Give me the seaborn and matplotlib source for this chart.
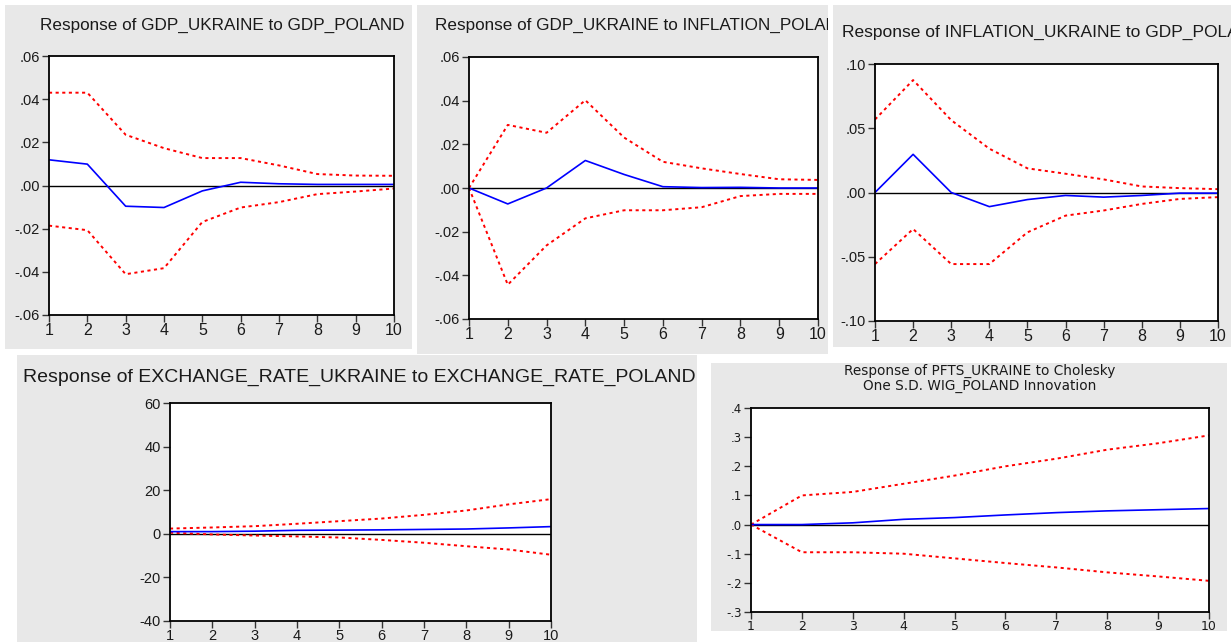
import matplotlib
matplotlib.use("Agg")
import matplotlib.pyplot as plt
import seaborn as sns
from matplotlib.patches import Rectangle
from matplotlib.transforms import Bbox, TransformedBbox

plt.rcParams["font.family"] = ["Liberation Sans", "DejaVu Sans"]

W, H = 1231, 642

periods = list(range(1, 11))

# Response of GDP_UKRAINE to GDP_POLAND
gdp_gdp_resp = [0.0119, 0.0099, -0.0096, -0.0102, -0.0025, 0.0015, 0.0008, 0.0005, 0.0005, 0.0005]
gdp_gdp_upper = [0.0430, 0.0430, 0.0235, 0.0173, 0.0127, 0.0127, 0.0093, 0.0053, 0.0046, 0.0045]
gdp_gdp_lower = [-0.0186, -0.0207, -0.0411, -0.0383, -0.0169, -0.0102, -0.0077, -0.0040, -0.0028, -0.0014]

# Response of GDP_UKRAINE to INFLATION_POLAND
gdp_inf_resp = [0.0, -0.0073, 0.0, 0.0126, 0.0062, 0.0006, 0.0002, 0.0003, 0.0, 0.0]
gdp_inf_upper = [0.0, 0.0289, 0.0253, 0.0402, 0.0231, 0.0120, 0.0090, 0.0064, 0.0040, 0.0037]
gdp_inf_lower = [0.0, -0.0443, -0.0263, -0.0139, -0.0102, -0.0102, -0.0088, -0.0037, -0.0027, -0.0027]

# Response of INFLATION_UKRAINE to GDP_POLAND
inf_gdp_resp = [0.0, 0.0297, 0.0, -0.0110, -0.0055, -0.0023, -0.0036, -0.0023, -0.0005, -0.0005]
inf_gdp_upper = [0.0568, 0.0875, 0.0563, 0.0341, 0.0188, 0.0146, 0.0102, 0.0047, 0.0034, 0.0026]
inf_gdp_lower = [-0.0557, -0.0284, -0.0557, -0.0557, -0.0310, -0.0180, -0.0140, -0.0089, -0.0050, -0.0036]

# Response of EXCHANGE_RATE_UKRAINE to EXCHANGE_RATE_POLAND
fx_resp = [1.0, 1.0, 1.2, 1.6, 1.7, 1.8, 2.0, 2.2, 2.7, 3.3]
fx_upper = [2.4, 2.9, 3.5, 4.6, 5.8, 7.0, 8.7, 10.7, 13.5, 15.9]
fx_lower = [0.5, -0.3, -0.8, -1.2, -1.7, -2.8, -4.1, -5.7, -7.2, -9.6]

# Response of PFTS_UKRAINE to WIG_POLAND
pfts_resp = [0.0, 0.0, 0.006, 0.018, 0.024, 0.033, 0.041, 0.047, 0.051, 0.055]
pfts_upper = [0.0, 0.100, 0.112, 0.140, 0.168, 0.200, 0.226, 0.257, 0.279, 0.306]
pfts_lower = [0.0, -0.095, -0.095, -0.100, -0.116, -0.132, -0.147, -0.164, -0.178, -0.193]

gdp_yticks = [-0.06, -0.04, -0.02, 0.0, 0.02, 0.04, 0.06]
gdp_yticklabels = ["-.06", "-.04", "-.02", ".00", ".02", ".04", ".06"]
inf_yticks = [-0.10, -0.05, 0.0, 0.05, 0.10]
inf_yticklabels = ["-.10", "-.05", ".00", ".05", ".10"]
fx_yticks = [-40, -20, 0, 20, 40, 60]
fx_yticklabels = ["-40", "-20", "0", "20", "40", "60"]
pfts_yticks = [-0.3, -0.2, -0.1, 0.0, 0.1, 0.2, 0.3, 0.4]
pfts_yticklabels = ["-.3", "-.2", "-.1", ".0", ".1", ".2", ".3", ".4"]

bg = "#e8e8e8"
txt = "#1a1a1a"

fig = plt.figure(figsize=(W / 100, H / 100), dpi=100)
fig.patch.set_facecolor("white")


def px_rect(x0, y0, x1, y1):
    return [x0 / W, 1 - y1 / H, (x1 - x0) / W, (y1 - y0) / H]


def grey_box(x0, y0, x1, y1):
    l, b, w, h = px_rect(x0, y0, x1, y1)
    fig.add_artist(Rectangle((l, b), w, h, transform=fig.transFigure,
                             facecolor=bg, edgecolor="none", zorder=0))
    return Bbox.from_bounds(l, b, w, h)


def panel(box, resp, upper, lower, yticks, yticklabels, ylim, tick_size, xtick_size, font=None):
    ax = fig.add_axes(px_rect(*box))
    ax.set_facecolor("white")
    sns.lineplot(x=periods, y=upper, ax=ax, color="red", linewidth=1.4,
                 linestyle=(0, (1.6, 1.8)))
    sns.lineplot(x=periods, y=lower, ax=ax, color="red", linewidth=1.4,
                 linestyle=(0, (1.6, 1.8)))
    ax.axhline(0, color="black", linewidth=1.0, zorder=1)
    sns.lineplot(x=periods, y=resp, ax=ax, color="blue", linewidth=1.2)
    ax.set_xlim(1, 10)
    ax.set_ylim(*ylim)
    ax.set_xticks(periods)
    ax.set_yticks(yticks)
    ax.set_yticklabels(yticklabels)
    ax.set_xlabel("")
    ax.set_ylabel("")
    for s in ax.spines.values():
        s.set_color("black")
        s.set_linewidth(1.3)
    ax.tick_params(axis="both", direction="out", length=5, width=1.0, color="#333333")
    ax.tick_params(axis="y", labelsize=tick_size, pad=1.5, labelcolor=txt)
    ax.tick_params(axis="x", labelsize=xtick_size, pad=1.0, labelcolor=txt)
    if font is not None:
        for lab in ax.get_xticklabels() + ax.get_yticklabels():
            lab.set_family(font)
    return ax


# top row
b1 = grey_box(5, 5, 412, 349)
b2 = grey_box(417, 5, 828, 354)
b3 = grey_box(833, 5, 1231, 347)
# bottom row
b4 = grey_box(17, 355, 697, 642)
b5 = grey_box(711, 363, 1227, 631)

panel((49, 56, 394, 315), gdp_gdp_resp, gdp_gdp_upper, gdp_gdp_lower,
      gdp_yticks, gdp_yticklabels, (-0.06, 0.06), 10.5, 11.5)
panel((469, 57, 818, 319), gdp_inf_resp, gdp_inf_upper, gdp_inf_lower,
      gdp_yticks, gdp_yticklabels, (-0.06, 0.06), 10.5, 11.5)
panel((875, 64, 1218, 321), inf_gdp_resp, inf_gdp_upper, inf_gdp_lower,
      inf_yticks, inf_yticklabels, (-0.10, 0.10), 10.5, 11.5)
panel((170, 403, 551, 621), fx_resp, fx_upper, fx_lower,
      fx_yticks, fx_yticklabels, (-40, 60), 10.5, 10.5)
panel((751, 408, 1209, 612), pfts_resp, pfts_upper, pfts_lower,
      pfts_yticks, pfts_yticklabels, (-0.3, 0.4), 8.5, 9, font="DejaVu Sans")


def title(x, y, s, size, clip=None, **kw):
    t = fig.text(x / W, 1 - y / H, s, fontsize=size, color=txt, va="center", **kw)
    if clip is not None:
        t.set_clip_on(True)
        t.set_clip_box(TransformedBbox(clip, fig.transFigure))
    return t


title(40, 25, "Response of GDP_UKRAINE to GDP_POLAND", 12.3)
title(435, 25, "Response of GDP_UKRAINE to INFLATION_POLAND", 12.3, clip=b2)
title(842, 32, "Response of INFLATION_UKRAINE to GDP_POLAND", 12.5, clip=b3)
title(23, 377, "Response of EXCHANGE_RATE_UKRAINE to EXCHANGE_RATE_POLAND", 14)
title(980, 371, "Response of PFTS_UKRAINE to Cholesky", 9.8, ha="center",
      family="DejaVu Sans")
title(980, 386, "One S.D. WIG_POLAND Innovation", 9.8, ha="center",
      family="DejaVu Sans")

fig.savefig("out.png", dpi=100, facecolor="white")
